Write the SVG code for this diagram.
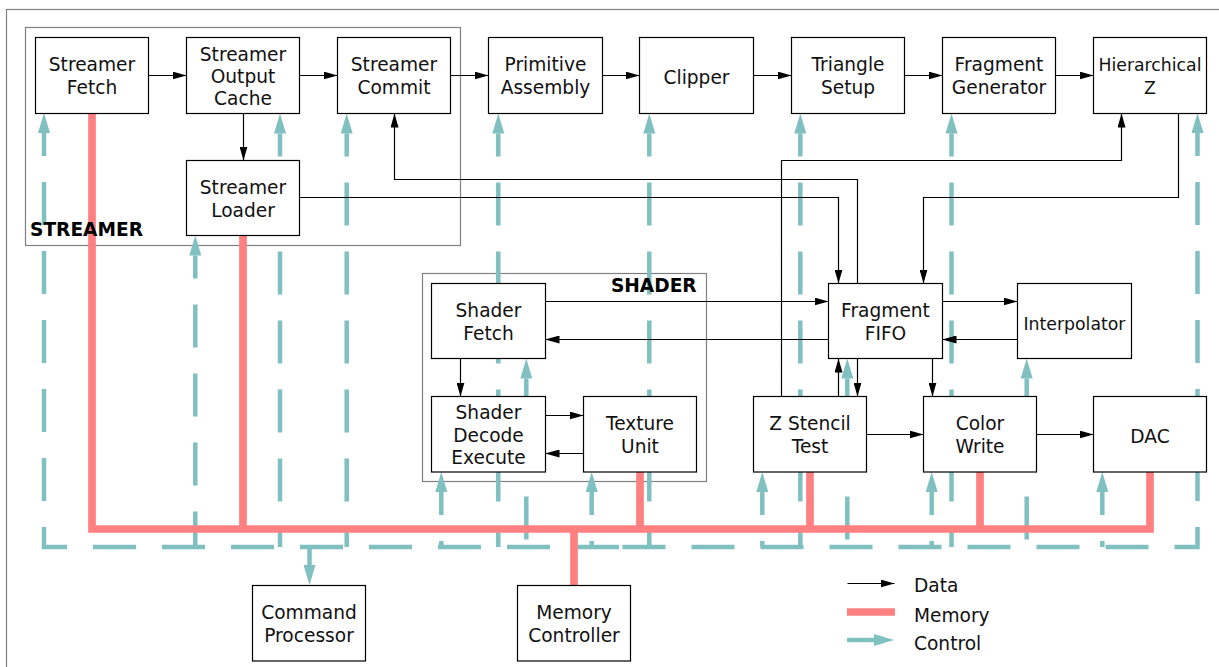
<svg xmlns="http://www.w3.org/2000/svg" width="1219" height="667" viewBox="0 0 1219 667">
<style>
.frame{fill:none;stroke:#808080;stroke-width:1.2}
.node rect{fill:#fff;stroke:#000;stroke-width:1.2}
.node text,.lbl text{font-family:"DejaVu Sans",Verdana,sans-serif;font-size:18.6px;fill:#111;text-anchor:middle}
.small text{font-size:17.3px}
.title{font-family:"DejaVu Sans",Verdana,sans-serif;font-size:18.6px;font-weight:bold;fill:#000}
.ctl{fill:none;stroke:#80c0c0;stroke-width:4.5;stroke-dasharray:43 26;stroke-dashoffset:20}
.ctls{fill:none;stroke:#80c0c0;stroke-width:4.5}
.mem{fill:none;stroke:#ff8080;stroke-width:7.7}
.dat{fill:none;stroke:#000;stroke-width:1.2;marker-end:url(#da)}
</style>
<defs>
<marker id="da" markerUnits="userSpaceOnUse" viewBox="0 0 14 8" markerWidth="14" markerHeight="8" refX="14" refY="4" orient="auto"><path d="M0,0 L14,4 L0,8 z" fill="#000"/></marker>
<marker id="ca" markerUnits="userSpaceOnUse" viewBox="0 0 20 12" markerWidth="20" markerHeight="12" refX="0" refY="6" orient="auto-start-reverse"><path d="M0,0 L20,6 L0,12 z" fill="#80c0c0"/></marker>
</defs>
<rect x="0" y="0" width="1219" height="667" fill="#fff"/>
<rect class="frame" x="6.5" y="9.5" width="1230" height="680"/>
<g id="streamer-group"><rect class="frame" x="25.5" y="27.5" width="435" height="218"/></g>
<g id="shader-group"><rect class="frame" x="422.5" y="273.5" width="284" height="208"/></g>

<g id="control">
<path class="ctl" d="M44,133 V547 H621" marker-start="url(#ca)"/>
<path class="ctl" d="M1197.5,133 V547 H621" marker-start="url(#ca)"/>
<path class="ctl" d="M195.3,255.5 V547" marker-start="url(#ca)"/>
<path class="ctl" d="M280,133.5 V547" marker-start="url(#ca)"/>
<path class="ctl" d="M346.7,133.5 V547" marker-start="url(#ca)"/>
<path class="ctl" d="M441.3,492 V547" marker-start="url(#ca)"/>
<path class="ctl" d="M498.3,133.5 V547" marker-start="url(#ca)"/>
<path class="ctl" d="M526.3,378.5 V547" marker-start="url(#ca)"/>
<path class="ctl" d="M591.7,492 V547" marker-start="url(#ca)"/>
<path class="ctl" d="M649.3,133.5 V547" marker-start="url(#ca)"/>
<path class="ctl" d="M762.3,492 V547" marker-start="url(#ca)"/>
<path class="ctl" d="M800.3,133.5 V547" marker-start="url(#ca)"/>
<path class="ctl" d="M847.3,378.5 V547" marker-start="url(#ca)"/>
<path class="ctl" d="M931.7,492 V547" marker-start="url(#ca)"/>
<path class="ctl" d="M951.5,133.5 V547" marker-start="url(#ca)"/>
<path class="ctl" d="M1026.7,378.5 V547" marker-start="url(#ca)"/>
<path class="ctl" d="M1102.3,492 V547" marker-start="url(#ca)"/>
<path class="ctls" d="M309.5,547 V565" marker-end="url(#ca)"/>
</g>

<g id="memory">
<path class="mem" d="M92,113.5 V529 H1150 V472"/>
<path class="mem" d="M243,235.5 V529"/>
<path class="mem" d="M640,472 V529"/>
<path class="mem" d="M810,472 V529"/>
<path class="mem" d="M980,472 V529"/>
<path class="mem" d="M574,529 V585.5"/>
</g>

<g id="data">
<path class="dat" d="M148.5,75.5 H186.5"/>
<path class="dat" d="M299.5,75.5 H337.5"/>
<path class="dat" d="M450.5,75.5 H488.5"/>
<path class="dat" d="M602.5,75.5 H639.5"/>
<path class="dat" d="M753.5,75.5 H791.5"/>
<path class="dat" d="M904.5,75.5 H942.5"/>
<path class="dat" d="M1055.5,75.5 H1093.5"/>
<path class="dat" d="M243.5,113.5 V160.5"/>
<path class="dat" d="M857.5,283.5 V179.5 H394.5 V113.5"/>
<path class="dat" d="M299.5,197.5 H838.5 V283.5"/>
<path class="dat" d="M1178.5,113.5 V197.5 H923.5 V283.5"/>
<path class="dat" d="M781.5,396.5 V160.5 H1121.5 V113.5"/>
<path class="dat" d="M545.5,301.5 H828.5"/>
<path class="dat" d="M828.5,339.5 H545.5"/>
<path class="dat" d="M460.5,358.5 V396.5"/>
<path class="dat" d="M545.5,415.5 H583.5"/>
<path class="dat" d="M583.5,453.5 H545.5"/>
<path class="dat" d="M942.5,301.5 H1017.5"/>
<path class="dat" d="M1017.5,339.5 H942.5"/>
<path class="dat" d="M838.5,396.5 V358.5"/>
<path class="dat" d="M857.5,358.5 V396.5"/>
<path class="dat" d="M932.5,358.5 V396.5"/>
<path class="dat" d="M866.5,434.5 H923.5"/>
<path class="dat" d="M1036.5,434.5 H1093.5"/>
</g>

<g id="streamer-fetch" class="node"><rect x="35.5" y="37.5" width="113" height="76"/><text x="92" y="71">Streamer</text><text x="92" y="94">Fetch</text></g>
<g id="streamer-output-cache" class="node"><rect x="186.5" y="37.5" width="113" height="76"/><text x="243" y="60.7">Streamer</text><text x="243" y="82.9">Output</text><text x="243" y="105.1">Cache</text></g>
<g id="streamer-commit" class="node"><rect x="337.5" y="37.5" width="113" height="76"/><text x="394" y="71">Streamer</text><text x="394" y="94">Commit</text></g>
<g id="primitive-assembly" class="node"><rect x="488.5" y="37.5" width="114" height="76"/><text x="545.5" y="71">Primitive</text><text x="545.5" y="94">Assembly</text></g>
<g id="clipper" class="node"><rect x="639.5" y="37.5" width="114" height="76"/><text x="696.5" y="84">Clipper</text></g>
<g id="triangle-setup" class="node"><rect x="791.5" y="37.5" width="113" height="76"/><text x="848" y="71">Triangle</text><text x="848" y="94">Setup</text></g>
<g id="fragment-generator" class="node"><rect x="942.5" y="37.5" width="113" height="76"/><text x="999" y="71">Fragment</text><text x="999" y="94">Generator</text></g>
<g id="hierarchical-z" class="node small"><rect x="1093.5" y="37.5" width="113" height="76"/><text x="1150" y="70.7">Hierarchical</text><text x="1150" y="94">Z</text></g>
<g id="streamer-loader" class="node"><rect x="186.5" y="160.5" width="113" height="75"/><text x="243" y="193.8">Streamer</text><text x="243" y="216.7">Loader</text></g>
<g id="shader-fetch" class="node"><rect x="431.5" y="283.5" width="114" height="75"/><text x="488.5" y="317">Shader</text><text x="488.5" y="340">Fetch</text></g>
<g id="fragment-fifo" class="node"><rect x="828.5" y="283.5" width="114" height="75"/><text x="885.5" y="317">Fragment</text><text x="885.5" y="340">FIFO</text></g>
<g id="interpolator" class="node small"><rect x="1017.5" y="283.5" width="114" height="75"/><text x="1074.5" y="330">Interpolator</text></g>
<g id="shader-decode-execute" class="node"><rect x="431.5" y="396.5" width="114" height="75.5"/><text x="488.5" y="419.3">Shader</text><text x="488.5" y="441.8">Decode</text><text x="488.5" y="464.2">Execute</text></g>
<g id="texture-unit" class="node"><rect x="583.5" y="396.5" width="113" height="75.5"/><text x="640" y="430">Texture</text><text x="640" y="452.7">Unit</text></g>
<g id="z-stencil-test" class="node"><rect x="753.5" y="396.5" width="113" height="75.5"/><text x="810" y="430">Z Stencil</text><text x="810" y="452.7">Test</text></g>
<g id="color-write" class="node"><rect x="923.5" y="396.5" width="113" height="75.5"/><text x="980" y="430">Color</text><text x="980" y="452.7">Write</text></g>
<g id="dac" class="node"><rect x="1093.5" y="396.5" width="113" height="75.5"/><text x="1150" y="443.3">DAC</text></g>
<g id="command-processor" class="node"><rect x="252.5" y="585.5" width="113" height="75.5"/><text x="309" y="619">Command</text><text x="309" y="641.7">Processor</text></g>
<g id="memory-controller" class="node"><rect x="517.5" y="585.5" width="113" height="75.5"/><text x="574" y="619">Memory</text><text x="574" y="641.7">Controller</text></g>

<g id="group-labels">
<text class="title" x="30" y="235.7">STREAMER</text>
<text class="title" x="696.7" y="292.3" text-anchor="end">SHADER</text>
</g>

<g id="legend" class="lbl">
<path class="dat" d="M847.5,583.5 H894.5"/>
<path class="mem" d="M847,612 H895"/>
<path class="ctls" d="M847,640 H874" marker-end="url(#ca)"/>
<text x="914" y="592.3" style="text-anchor:start">Data</text>
<text x="914" y="621.7" style="text-anchor:start">Memory</text>
<text x="914" y="650" style="text-anchor:start">Control</text>
</g>
</svg>
